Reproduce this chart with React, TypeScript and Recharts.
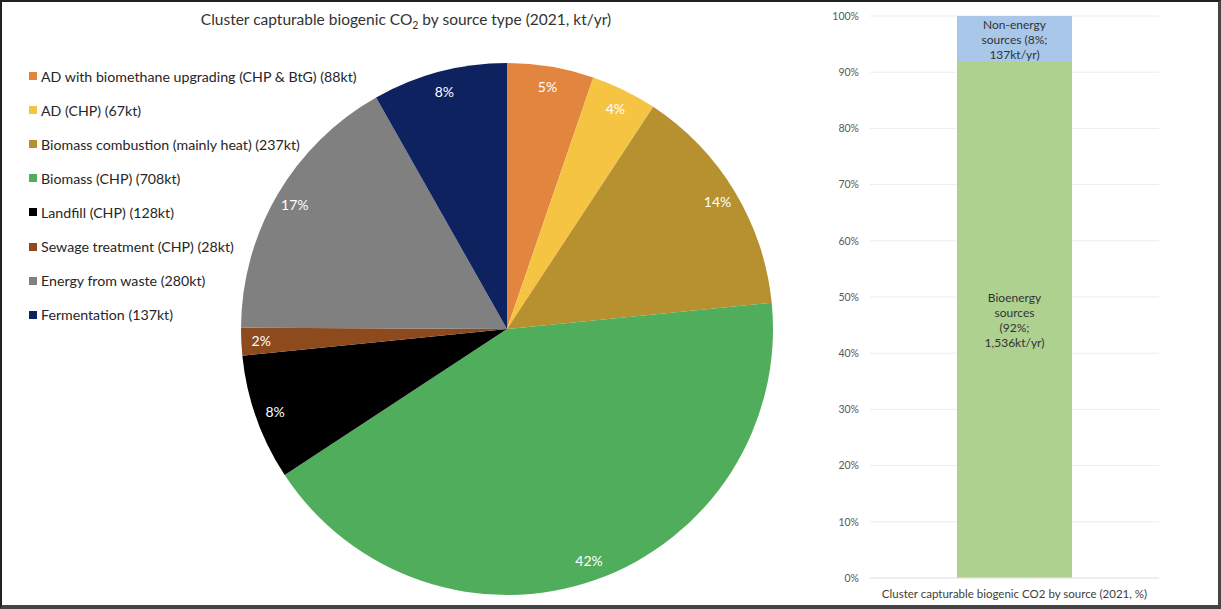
import React from "react";
import { PieChart, Pie, Cell, BarChart, Bar, XAxis, YAxis, CartesianGrid, LabelList } from "recharts";

const sourceNames = [
  "AD with biomethane upgrading (CHP & BtG)",
  "AD (CHP)",
  "Biomass combustion (mainly heat)",
  "Biomass (CHP)",
  "Landfill (CHP)",
  "Sewage treatment (CHP)",
  "Energy from waste",
  "Fermentation",
];
const sourceValues = [88, 67, 237, 708, 128, 28, 280, 137];
const sourceColors = ["#E2853F", "#F6C443", "#B79030", "#4FAD5B", "#000000", "#8C4A1D", "#808080", "#0F2260"];

const barCategories = ["Cluster capturable biogenic CO2 by source (2021, %)"];
const bioenergyShare = [91.8];
const nonEnergyShare = [8.2];
const bioenergyLabel = ["Bioenergy", "sources", "(92%;", "1,536kt/yr)"];
const nonEnergyLabel = ["Non-energy", "sources (8%;", "137kt/yr)"];
const yTicks = [0, 10, 20, 30, 40, 50, 60, 70, 80, 90, 100];

const FONT = "Lato, 'Open Sans', sans-serif";

const pieData = sourceNames.map((n, i) => ({ name: n, value: sourceValues[i], color: sourceColors[i] }));
const barData = barCategories.map((c, i) => ({ name: c, bio: bioenergyShare[i], non: nonEnergyShare[i] }));

const RADIAN = Math.PI / 180;

const renderPieLabel = (props: any) => {
  const { cx, cy, midAngle, outerRadius, percent } = props;
  const r = outerRadius * 0.925;
  const x = cx + r * Math.cos(-midAngle * RADIAN);
  const y = cy + r * Math.sin(-midAngle * RADIAN);
  return (
    <text x={x} y={y} fill="#ffffff" textAnchor="middle" dominantBaseline="central" fontSize={14} fontFamily={FONT}>
      {`${Math.round(percent * 100)}%`}
    </text>
  );
};

const makeBarLabel = (lines: string[]) => (props: any) => {
  const { x, y, width, height } = props;
  const cx = x + width / 2;
  const cy = y + height / 2;
  const lh = 15;
  const start = cy - ((lines.length - 1) * lh) / 2;
  return (
    <text textAnchor="middle" fontSize={12} fontFamily={FONT} fill="#333333">
      {lines.map((l, i) => (
        <tspan key={i} x={cx} y={start + i * lh} dominantBaseline="central">
          {l}
        </tspan>
      ))}
    </text>
  );
};

const CategoryTick = (props: any) => {
  const { x, y, payload } = props;
  return (
    <text x={x} y={y} dy="0.71em" textAnchor="middle" fontSize={11.5} fontFamily={FONT} fill="#404040">
      {payload.value}
    </text>
  );
};

export default function App() {
  return (
    <div
      style={{
        position: "absolute",
        left: 0,
        top: 0,
        width: 1221,
        height: 609,
        boxSizing: "border-box",
        borderTop: "2px solid #222",
        borderLeft: "2px solid #222",
        borderRight: "3px solid #444",
        borderBottom: "4px solid #444",
        background: "#fff",
        overflow: "hidden",
      }}
    >
      <div
        style={{
          position: "absolute",
          left: 0,
          top: 8,
          width: 808,
          textAlign: "center",
          fontFamily: FONT,
          fontSize: 15.5,
          color: "#333",
          whiteSpace: "nowrap",
        }}
      >
        Cluster capturable biogenic CO<sub style={{ fontSize: 10.5 }}>2</sub> by source type (2021, kt/yr)
      </div>
      <div style={{ position: "absolute", left: -2, top: -2 }}>
        <PieChart width={790} height={609} margin={{ top: 0, right: 0, bottom: 0, left: 0 }}>
          <Pie
            data={pieData}
            dataKey="value"
            nameKey="name"
            cx={507}
            cy={329}
            outerRadius={266}
            startAngle={90}
            endAngle={-270}
            stroke="none"
            label={renderPieLabel}
            labelLine={false}
            isAnimationActive={false}
          >
            {pieData.map((d) => (
              <Cell key={d.name} fill={d.color} />
            ))}
          </Pie>
        </PieChart>
      </div>
      <div
        style={{
          position: "absolute",
          left: 27,
          top: 57,
          fontFamily: FONT,
          fontSize: 14.2,
          color: "#262626",
          whiteSpace: "nowrap",
        }}
      >
        {pieData.map((d) => (
          <div key={d.name} style={{ display: "flex", alignItems: "center", height: 34.1 }}>
            <span style={{ display: "inline-block", width: 8, height: 8, background: d.color, marginRight: 4 }} />
            <span>{`${d.name} (${d.value}kt)`}</span>
          </div>
        ))}
      </div>
      <div style={{ position: "absolute", left: 788, top: -2 }}>
        <BarChart width={400} height={609} data={barData} margin={{ top: 16, right: 31, bottom: 0, left: 0 }}>
          <CartesianGrid vertical={false} stroke="#ececec" />
          <XAxis
            dataKey="name"
            axisLine={{ stroke: "#e6e6e6" }}
            tickLine={false}
            tickMargin={6}
            height={31}
            interval={0}
            tick={<CategoryTick />}
          />
          <YAxis
            domain={[0, 100]}
            ticks={yTicks}
            tickFormatter={(v: number) => `${v}%`}
            axisLine={false}
            tickLine={false}
            width={80}
            tickMargin={5}
            tick={{ fontSize: 10.5, fill: "#595959", fontFamily: FONT }}
          />
          <Bar dataKey="bio" stackId="a" fill="#AED190" barSize={115} isAnimationActive={false}>
            <LabelList dataKey="bio" content={makeBarLabel(bioenergyLabel)} />
          </Bar>
          <Bar dataKey="non" stackId="a" fill="#A9C7E8" barSize={115} isAnimationActive={false}>
            <LabelList dataKey="non" content={makeBarLabel(nonEnergyLabel)} />
          </Bar>
        </BarChart>
      </div>
    </div>
  );
}
